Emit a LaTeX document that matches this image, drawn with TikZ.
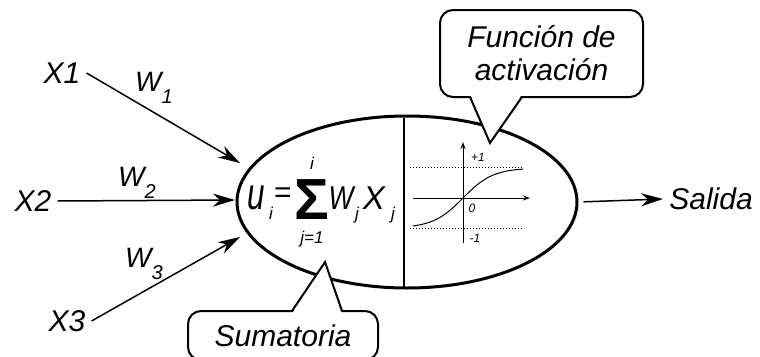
\documentclass[tikz,border=0pt]{standalone}
\usepackage{fontspec}
\setmainfont{Liberation Sans}
\usetikzlibrary{arrows.meta,calc,shapes.geometric}

\newcommand{\wsub}[2]{\textit{#1}\raisebox{-0.45em}{\fontsize{20}{20}\selectfont\textit{#2}}}

\begin{document}
\begin{tikzpicture}[x=1pt, y=-1pt,
    lbl/.style={font=\fontsize{30}{33}\selectfont\itshape, inner sep=6pt},
    wlbl/.style={font=\fontsize{28}{30}\selectfont\itshape, inner sep=0pt},
    inarrow/.style={line width=1.5pt, -{Stealth[length=22pt,width=13pt,inset=7pt]}},
    axarrow/.style={line width=1pt, -{Stealth[length=7pt,width=5pt]}},
    callbox/.style={draw, line width=2pt, fill=white, rounded corners=13pt, align=center,
                    font=\fontsize{30}{33}\selectfont\itshape, inner sep=0pt},
    formula/.style={inner sep=0pt, font=\fontsize{33}{33}\selectfont\itshape},
    idx/.style={inner sep=0pt, font=\fontsize{17}{17}\selectfont\itshape},
    tick/.style={inner sep=0pt, font=\fontsize{12}{12}\selectfont\itshape}]

    \useasboundingbox (0,0) rectangle (760,356);

    % Neuron
    \node[draw, ellipse, line width=3pt, minimum width=340pt, minimum height=172pt] (neuron) at (407,202) {};
    \draw[line width=1.5pt] ($(neuron.north)+(-3,3)$) -- ($(neuron.south)+(-3,-3)$);

    % Inputs and weights
    \node[lbl] (x1) at (62,73) {X1};
    \node[lbl] (x2) at (33,201) {X2};
    \node[lbl] (x3) at (67,321) {X3};
    \coordinate (in1) at (240,163);
    \coordinate (in2) at (235,200);
    \coordinate (in3) at (240,237);
    \draw[inarrow] (x1.east) -- (in1);
    \draw[inarrow] (x2.east) -- (in2);
    \draw[inarrow] (x3.east) -- (in3);
    \node[wlbl] (w1) at (154,88) {\wsub{W}{1}};
    \node[wlbl] (w2) at (137,183) {\wsub{W}{2}};
    \node[wlbl] (w3) at (144,264) {\wsub{W}{3}};

    % Weighted sum
    \node[formula] (u) at (256,198) {\scalebox{0.95}[1.35]{u}};
    \node[idx] (usub) at (271,213) {i};
    \node[formula, font=\fontsize{30}{30}\selectfont] (eq) at (283,195) {=};
    \node[inner sep=0pt, font=\fontsize{58}{58}\selectfont\bfseries, text height=42pt, text depth=0pt] (sum) at (312,198) {Σ};
    \node[idx] (top) at (312,163) {i};
    \node[idx] (bot) at (312,239) {j=1};
    \node[formula] (w) at (341,198) {\scalebox{0.8}[1]{W}};
    \node[idx] (wsub) at (357,215) {j};
    \node[formula] (x) at (374,198) {X};
    \node[idx] (xsub) at (393,215) {j};

    % Activation
    \draw[line width=1pt, dash pattern=on 1.3pt off 1.7pt] (410,167) -- (523,167);
    \draw[line width=1pt, dash pattern=on 1.3pt off 1.7pt] (410,228) -- (523,228);
    \draw[axarrow] (413,198) -- (530,198);
    \draw[axarrow] (463,243) -- (463,142);
    \draw[line width=1pt] plot[domain=413:523, samples=60, smooth] (\x,{198-30*tanh((\x-463)/30)});
    \node[tick] (p1) at (478,157) {+1};
    \node[tick] (z0) at (472,208) {0};
    \node[tick] (m1) at (475,238) {-1};

    % Output
    \node[lbl] (out) at (711,199) {Salida};
    \draw[inarrow, shorten <=5pt] (neuron.east) -- (out.west);

    % Callouts
    \node[callbox, minimum width=203pt, minimum height=87pt] (act) at (541.5,53.5) {Función de\\activación};
    \coordinate (acttip) at (490,143);
    \fill[white] (470.5,95) -- (acttip) -- (521.5,95) -- cycle;
    \draw[line width=2pt] (470,97) -- (acttip) -- (522,97);

    \node[callbox, minimum width=190pt, minimum height=49pt] (sumbox) at (283,335.5) {Sumatoria};
    \coordinate (sumtip) at (325,262);
    \fill[white] (292.5,313) -- (sumtip) -- (341.5,313) -- cycle;
    \draw[line width=2pt] (292,311) -- (sumtip) -- (342,311);
\end{tikzpicture}
\end{document}
